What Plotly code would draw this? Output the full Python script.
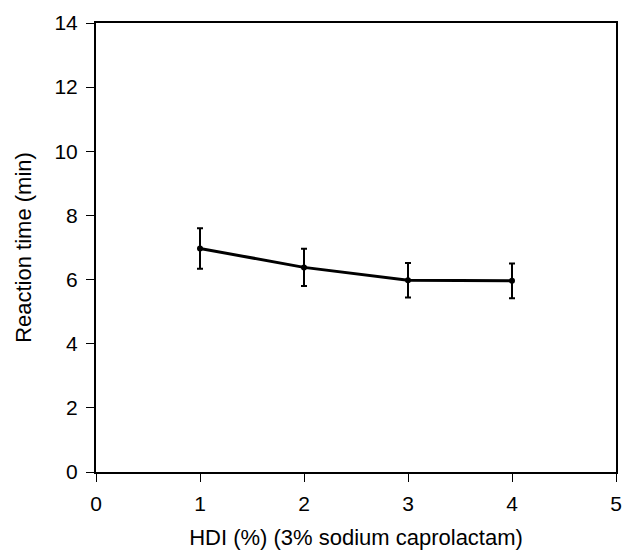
import plotly.graph_objects as go

hdi = [1, 2, 3, 4]
reaction_time = [6.97, 6.38, 5.98, 5.96]
error = [0.63, 0.58, 0.54, 0.54]

x_ticks = [0, 1, 2, 3, 4, 5]
y_ticks = [0, 2, 4, 6, 8, 10, 12, 14]

fig = go.Figure()
fig.add_trace(go.Scatter(
    x=hdi, y=reaction_time,
    mode="lines+markers",
    line=dict(color="black", width=3),
    marker=dict(color="black", size=6),
    error_y=dict(type="data", array=error, visible=True, color="black", thickness=2, width=3),
    showlegend=False,
))

font = "Liberation Sans, Arial, sans-serif"
fig.update_layout(
    width=630, height=555,
    margin=dict(l=96, r=8, t=23, b=83),
    paper_bgcolor="white", plot_bgcolor="white",
    font=dict(family=font, size=21, color="black"),
    xaxis=dict(
        range=[0, 5], tickvals=x_ticks, ticktext=[str(v) for v in x_ticks],
        tickfont=dict(family=font, size=21, color="black"),
        showgrid=False, zeroline=False, showline=True, linecolor="black", linewidth=2,
        mirror=True, ticks="outside", ticklen=8, tickwidth=1, tickcolor="black",
        ticklabelstandoff=4,
        title=dict(text="HDI (%) (3% sodium caprolactam)", font=dict(family=font, size=22), standoff=15),
    ),
    yaxis=dict(
        range=[0, 14], tickvals=y_ticks, ticktext=[str(v) for v in y_ticks],
        tickfont=dict(family=font, size=21, color="black"),
        showgrid=False, zeroline=False, showline=True, linecolor="black", linewidth=2,
        mirror=True, ticks="outside", ticklen=8, tickwidth=1, tickcolor="black",
        ticklabelstandoff=4,
        title=dict(text="Reaction time (min)", font=dict(family=font, size=22), standoff=17),
    ),
)

fig.write_html("out.html")
